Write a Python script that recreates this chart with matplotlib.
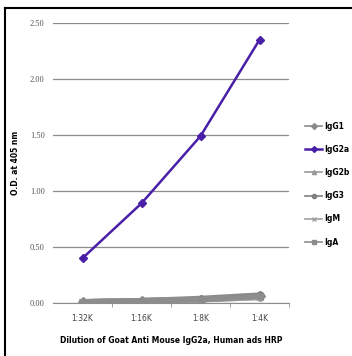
import matplotlib
matplotlib.use('Agg')
import matplotlib.pyplot as plt
from matplotlib.lines import Line2D

dilutions = ['1:32K', '1:16K', '1:8K', '1:4K']
igg1 = [0.01, 0.02, 0.03, 0.06]
igg2a = [0.40, 0.89, 1.49, 2.35]
igg2b = [0.01, 0.02, 0.03, 0.05]
igg3 = [0.01, 0.02, 0.04, 0.07]
igm = [0.01, 0.02, 0.03, 0.05]
iga = [0.01, 0.02, 0.03, 0.06]
y_ticks = [0.0, 0.5, 1.0, 1.5, 2.0, 2.5]

series = [
    ('IgG1', igg1, '#8a8a8a', 'D'),
    ('IgG2a', igg2a, '#4a1fa8', 'D'),
    ('IgG2b', igg2b, '#9a9a9a', '^'),
    ('IgG3', igg3, '#7f7f7f', 'o'),
    ('IgM', igm, '#a0a0a0', 'x'),
    ('IgA', iga, '#8c8c8c', 's'),
]

fig = plt.figure(figsize=(3.52, 3.56), dpi=100)
ax = fig.add_axes([53 / 352, 1 - 303 / 356, 236 / 352, 280 / 356])

x = list(range(len(dilutions)))
# grey lines first, purple on top
for name, vals, color, marker in series:
    if name == 'IgG2a':
        continue
    ax.plot(x, vals, color=color, lw=4, marker=marker, ms=5, alpha=0.9, zorder=2)
ax.plot(x, igg2a, color='#4a1fa8', lw=1.8, marker='D', ms=4, zorder=3)

ax.set_xlim(-0.5, 3.5)
ax.set_ylim(0, 2.5)
ax.set_yticks(y_ticks)
ax.set_yticklabels([f'{v:.2f}' for v in y_ticks], fontsize=6, color='#555555',
                   family='Liberation Serif')
ax.yaxis.grid(True, color='#8c8c8c', lw=0.9)
ax.set_axisbelow(True)
ax.tick_params(axis='y', length=0, pad=6)
ax.set_xticks(x)
ax.set_xticklabels(dilutions, fontsize=5.5, color='#444444')
ax.tick_params(axis='x', length=0, pad=8)
ax.set_xticks([0.5, 1.5, 2.5, 3.5], minor=True)
ax.tick_params(axis='x', which='minor', length=3, color='#8c8c8c', direction='out')
for s in ['top', 'right', 'left']:
    ax.spines[s].set_visible(False)
ax.spines['bottom'].set_color('#8c8c8c')

ax.set_ylabel('O.D. at 405 nm', fontsize=5.5, fontweight='bold')
ax.yaxis.set_label_coords(-0.14, 0.5)
ax.set_xlabel('Dilution of Goat Anti Mouse IgG2a, Human ads HRP', fontsize=5.5,
              fontweight='bold', labelpad=9)

handles = []
for name, vals, color, marker in series:
    lw = 1.8 if name == 'IgG2a' else 1.2
    handles.append(Line2D([0], [0], color=color, lw=lw, marker=marker, ms=3))
fig.legend(handles, [s[0] for s in series], loc='upper left',
           bbox_to_anchor=(298 / 352, 1 - 115 / 356), frameon=False,
           handlelength=2.3, handletextpad=0.2, labelspacing=1.85,
           prop={'weight': 'bold', 'size': 5.5})

# frame lines at top and left
fig.add_artist(Line2D([5 / 352, 5 / 352], [0, 1 - 8 / 356], color='black', lw=1.5,
                      transform=fig.transFigure))
fig.add_artist(Line2D([5 / 352, 1], [1 - 8 / 356, 1 - 8 / 356], color='black', lw=1.5,
                      transform=fig.transFigure))

fig.savefig('out.png', dpi=100)
